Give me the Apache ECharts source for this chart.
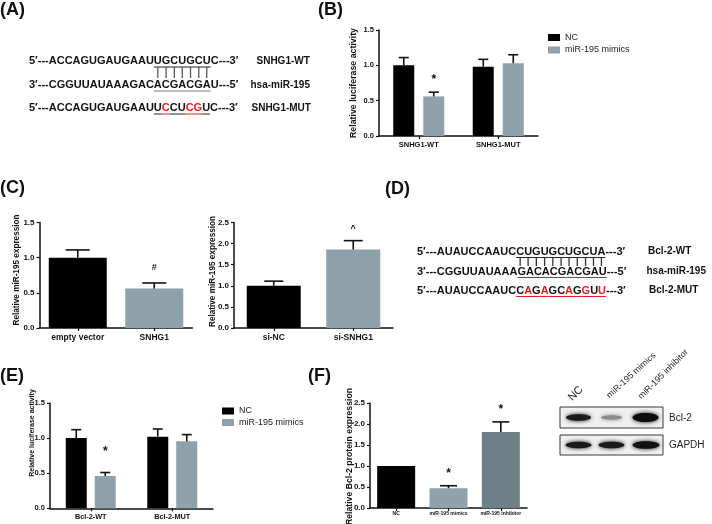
<!DOCTYPE html>
<html><head><meta charset="utf-8">
<script src="https://cdn.jsdelivr.net/npm/echarts@6/dist/echarts.min.js"></script>
<style>html,body{margin:0;padding:0;background:#fff}#c{width:712px;height:524px}</style>
</head><body><div id="c"></div>
<script>
// ---------- data ----------
const bCategories = ['SNHG1-WT', 'SNHG1-MUT'];
const bNC = [1.00, 0.98];
const bNCErr = [0.11, 0.105];
const bMimics = [0.56, 1.03];
const bMimicsErr = [0.06, 0.12];
const bMimicsMarks = ['*', ''];

const cLeftCategories = ['empty vector', 'SNHG1'];
const cLeftValues = [1.00, 0.56];
const cLeftErr = [0.11, 0.08];
const cLeftMarks = ['', '#'];

const cRightCategories = ['si-NC', 'si-SNHG1'];
const cRightValues = [1.00, 1.86];
const cRightErr = [0.11, 0.21];
const cRightMarks = ['', '^'];

const eCategories = ['Bcl-2-WT', 'Bcl-2-MUT'];
const eNC = [1.00, 1.02];
const eNCErr = [0.12, 0.11];
const eMimics = [0.46, 0.955];
const eMimicsErr = [0.05, 0.095];
const eMimicsMarks = ['*', ''];

const fCategories = ['NC', 'miR-195 mimics', 'miR-195 inhibitor'];
const fValues = [1.00, 0.47, 1.81];
const fErr = [0, 0.06, 0.24];
const fMarks = ['', '*', '*'];

const legendNames = ['NC', 'miR-195 mimics'];
const blotLanes = ['NC', 'miR-195 mimics', 'miR-195 inhibitor'];
const blotRows = ['Bcl-2', 'GAPDH'];

// ---------- styles ----------
const FONT = '"Liberation Sans", Arial, sans-serif';
const BLACK = '#000000';
const GRAY = '#8fa1ab';
const SLATE = '#6d7f87';
const INK = '#111111';

function grid(l, t, w, h) {
  return { left: l, top: t, width: w, height: h, containLabel: false, outerBoundsMode: 'none' };
}
function xAx(gi, cats, fs, margin) {
  return {
    type: 'category', gridIndex: gi, data: cats,
    axisLine: { show: true, lineStyle: { color: INK, width: 1.5 } },
    axisTick: { show: true, alignWithLabel: true, length: 3, lineStyle: { color: INK, width: 1.2 } },
    axisLabel: { fontFamily: FONT, fontWeight: 'bold', fontSize: fs, color: INK, margin: margin, interval: 0 },
    splitLine: { show: false }
  };
}
function yAx(gi, max, fs) {
  return {
    type: 'value', gridIndex: gi, min: 0, max: max, interval: 0.5,
    axisLine: { show: true, lineStyle: { color: INK, width: 1.5 } },
    axisTick: { show: true, length: 3, lineStyle: { color: INK, width: 1.2 } },
    axisLabel: { fontFamily: FONT, fontWeight: 'bold', fontSize: fs, color: INK, margin: 5, formatter: v => v.toFixed(1) },
    splitLine: { show: false }
  };
}
function errSeries(gi, vals, errs, marks, offset, cap, markGap, markSize) {
  return {
    type: 'custom', xAxisIndex: gi, yAxisIndex: gi, z: 5, silent: true,
    data: vals.map((v, i) => [i, v, v + errs[i]]),
    renderItem: function (params, api) {
      const i = params.dataIndex;
      const base = api.coord([api.value(0), api.value(1)]);
      const top = api.coord([api.value(0), api.value(2)]);
      const x = base[0] + offset;
      const children = [];
      if (errs[i] > 0) {
        children.push({ type: 'line', shape: { x1: x, y1: base[1], x2: x, y2: top[1] }, style: { stroke: INK, lineWidth: 1.6 } });
        children.push({ type: 'line', shape: { x1: x - cap / 2, y1: top[1], x2: x + cap / 2, y2: top[1] }, style: { stroke: INK, lineWidth: 1.6 } });
      }
      if (marks[i]) {
        children.push({ type: 'text', x: x, y: top[1] - markGap,
          style: { text: marks[i], font: 'bold ' + markSize + 'px ' + FONT, fill: INK, align: 'center', verticalAlign: 'middle', textAlign: 'center', textVerticalAlign: 'middle' } });
      }
      return { type: 'group', children: children };
    }
  };
}

// ---------- graphics (text, sequences, blot) ----------
const graphics = [];
function txt(x, y, s, font, opts) {
  opts = opts || {};
  graphics.push({
    type: 'text', x: x, y: y, rotation: opts.rotation || 0, silent: true,
    style: { text: s, font: font, fill: opts.fill || INK,
      align: opts.align || 'left', verticalAlign: opts.va || 'middle',
      textAlign: opts.align || 'left', textVerticalAlign: opts.va || 'middle' }
  });
}
function line(x1, y1, x2, y2, color, w) {
  graphics.push({ type: 'line', silent: true, shape: { x1, y1, x2, y2 }, style: { stroke: color, lineWidth: w } });
}

const measureCtx = document.createElement('canvas').getContext('2d');
const SEQ_FONT = 'bold 11px ' + FONT;
function tw(s, font) { measureCtx.font = font; return measureCtx.measureText(s).width; }

// draws a sequence line; returns centres of core letters
function seqLine(x, y, pre, core, post, red, ulColor) {
  const full = pre + core + post;
  const colors = [];
  for (let i = 0; i < full.length; i++) {
    const ci = i - pre.length;
    colors.push(ci >= 0 && ci < core.length && red.indexOf(ci) >= 0 ? '#e0211d' : INK);
  }
  let start = 0;
  for (let i = 1; i <= full.length; i++) {
    if (i === full.length || colors[i] !== colors[start]) {
      const seg = full.slice(start, i);
      txt(x + tw(full.slice(0, start), SEQ_FONT), y, seg, SEQ_FONT, { fill: colors[start] });
      start = i;
    }
  }
  const centres = [];
  for (let k = 0; k < core.length; k++) {
    const x0 = x + tw(pre + core.slice(0, k), SEQ_FONT);
    const x1 = x + tw(pre + core.slice(0, k + 1), SEQ_FONT);
    const col = red.indexOf(k) >= 0 ? '#e0211d' : ulColor;
    line(x0, y + 6, x1, y + 6, col, 1);
    centres.push((x0 + x1) / 2);
  }
  return centres;
}
function pairBars(centres, y1, y2, color) {
  centres.forEach(c => line(c, y1, c, y2, color, 1.3));
}

// Panel labels
const PL = 'bold 18px ' + FONT;
txt(0, 10, '(A)', PL); txt(318, 10, '(B)', PL);
txt(0, 188, '(C)', PL); txt(385, 189, '(D)', PL);
txt(0, 376, '(E)', PL); txt(308, 376, '(F)', PL);

// Panel A sequences
const LAB = 'bold 10px ' + FONT;
const a1 = seqLine(29, 61, '5\u2032---ACCAGUGAUGAAU', 'UGCUGCU', 'C---3\u2032', [], '#222');
seqLine(29, 85, '3\u2032---CGGUUAUAAAGAC', 'ACGACGA', 'U---5\u2032', [], '#777');
seqLine(29, 108, '5\u2032---ACCAGUGAUGAAU', 'UCCUCGU', 'C---3\u2032', [1, 4, 5], '#222');
pairBars(a1, 67, 78, '#555');
txt(256.5, 61, 'SNHG1-WT', LAB);
txt(250.5, 85, 'hsa-miR-195', LAB);
txt(251.5, 108, 'SNHG1-MUT', LAB);

// Panel D sequences
const d1 = seqLine(417, 251.5, '5\u2032---AUAUCCAAUC', 'CUGUGCUGCUA', '---3\u2032', [], '#222');
seqLine(417, 271.5, '3\u2032---CGGUUAUAAA', 'GACACGACGAU', '---5\u2032', [], '#555');
seqLine(417, 290.5, '5\u2032---AUAUCCAAUC', 'CAGAGCAGGUU', '---3\u2032', [1, 3, 6, 8, 10], '#e0211d');
pairBars(d1, 257, 266, '#333');
txt(648, 251.5, 'Bcl-2-WT', LAB);
txt(646.5, 271.5, 'hsa-miR-195', LAB);
txt(649, 290.5, 'Bcl-2-MUT', LAB);

// Y axis titles
const rot = Math.PI / 2;
txt(354, 83, 'Relative luciferase activity', 'bold 8.8px ' + FONT, { align: 'center', rotation: rot });
txt(16.5, 270, 'Relative miR-195 expression', 'bold 8.2px ' + FONT, { align: 'center', rotation: rot });
txt(212.5, 271.5, 'Relative miR-195 expression', 'bold 8.2px ' + FONT, { align: 'center', rotation: rot });
txt(32, 433, 'Relative luciferase activity', 'bold 7px ' + FONT, { align: 'center', rotation: rot });
txt(350, 456.5, 'Relative Bcl-2 protein expression', 'bold 8.7px ' + FONT, { align: 'center', rotation: rot });

// Western blot
graphics.push({ type: 'rect', silent: true, shape: { x: 560, y: 407, width: 103, height: 21 }, style: { fill: '#f0f0f0', stroke: '#3a3a3a', lineWidth: 1 } });
graphics.push({ type: 'rect', silent: true, shape: { x: 560, y: 435, width: 103, height: 20 }, style: { fill: '#f0f0f0', stroke: '#3a3a3a', lineWidth: 1 } });
function band(cx, cy, rx, ry, color) {
  graphics.push({ type: 'ellipse', silent: true, shape: { cx, cy, rx, ry }, style: { fill: color, shadowBlur: 4, shadowColor: color } });
}
band(578.5, 417.5, 12.5, 3.2, '#1a1a1a');
band(611.5, 417.5, 10.5, 2.2, '#8a8a8a');
band(645.5, 417.5, 13, 4.6, '#0d0d0d');
band(578.5, 445, 13, 3.3, '#1a1a1a');
band(611.5, 445, 13, 3.3, '#1a1a1a');
band(646, 445, 13.5, 3.8, '#111111');
txt(669, 418, blotRows[0], '10px ' + FONT, { fill: '#222' });
txt(669, 445, blotRows[1], '10px ' + FONT, { fill: '#222' });
txt(574, 403, blotLanes[0], '11px ' + FONT, { va: 'bottom', rotation: Math.PI / 4, fill: '#222' });
txt(611, 400, blotLanes[1], '8.8px ' + FONT, { va: 'bottom', rotation: 0.74, fill: '#222' });
txt(643, 401, blotLanes[2], '8.8px ' + FONT, { va: 'bottom', rotation: Math.PI / 4, fill: '#222' });

// ---------- chart ----------
const legendBase = {
  orient: 'vertical', icon: 'rect', itemWidth: 12, itemHeight: 7, padding: 0,
  selectedMode: false, data: legendNames,
  textStyle: { fontFamily: FONT, fontSize: 9, color: '#222', lineHeight: 10 }
};

const option = {
  animation: false,
  backgroundColor: '#ffffff',
  grid: [
    grid(379, 30, 159, 106),
    grid(39.5, 222.5, 153, 105.5),
    grid(234, 222.5, 159, 105.5),
    grid(50, 403, 163, 105.3),
    grid(370, 403, 157, 105)
  ],
  xAxis: [
    xAx(0, bCategories, 7.5, 5),
    xAx(1, cLeftCategories, 8.5, 5),
    xAx(2, cRightCategories, 8.5, 5),
    xAx(3, eCategories, 7.3, 5),
    xAx(4, fCategories, 5, 3)
  ],
  yAxis: [
    yAx(0, 1.5, 7.5),
    yAx(1, 1.5, 8),
    yAx(2, 2.5, 8),
    yAx(3, 1.5, 7.5),
    yAx(4, 2.5, 8)
  ],
  legend: [
    Object.assign({}, legendBase, { left: 548, top: 32.5, itemGap: 2.5 }),
    Object.assign({}, legendBase, { left: 222, top: 406, itemGap: 1.5 })
  ],
  series: [
    { type: 'bar', name: 'NC', xAxisIndex: 0, yAxisIndex: 0, data: bNC, barWidth: 21, barGap: '43%', itemStyle: { color: BLACK } },
    { type: 'bar', name: 'miR-195 mimics', xAxisIndex: 0, yAxisIndex: 0, data: bMimics, barWidth: 21, barGap: '43%', itemStyle: { color: GRAY } },
    errSeries(0, bNC, bNCErr, ['', ''], -15, 10, 14, 12),
    errSeries(0, bMimics, bMimicsErr, bMimicsMarks, 15, 10, 12, 12),

    { type: 'bar', name: 'C1', xAxisIndex: 1, yAxisIndex: 1, barWidth: 58,
      data: cLeftValues.map((v, i) => ({ value: v, itemStyle: { color: i === 0 ? BLACK : GRAY } })) },
    errSeries(1, cLeftValues, cLeftErr, cLeftMarks, 0, 24, 15, 9),

    { type: 'bar', name: 'C2', xAxisIndex: 2, yAxisIndex: 2, barWidth: 54,
      data: cRightValues.map((v, i) => ({ value: v, itemStyle: { color: i === 0 ? BLACK : GRAY } })) },
    errSeries(2, cRightValues, cRightErr, cRightMarks, 0, 19, 12, 9),

    { type: 'bar', name: 'NC', xAxisIndex: 3, yAxisIndex: 3, data: eNC, barWidth: 21, barGap: '38%', itemStyle: { color: BLACK } },
    { type: 'bar', name: 'miR-195 mimics', xAxisIndex: 3, yAxisIndex: 3, data: eMimics, barWidth: 21, barGap: '38%', itemStyle: { color: GRAY } },
    errSeries(3, eNC, eNCErr, ['', ''], -14.5, 10, 14, 12),
    errSeries(3, eMimics, eMimicsErr, eMimicsMarks, 14.5, 10, 21, 12),

    { type: 'bar', name: 'F', xAxisIndex: 4, yAxisIndex: 4, barWidth: 38,
      data: fValues.map((v, i) => ({ value: v, itemStyle: { color: [BLACK, GRAY, SLATE][i] } })) },
    errSeries(4, fValues, fErr, fMarks, 0, 17, 12.5, 12)
  ],
  graphic: { elements: graphics }
};

const chart = echarts.init(document.getElementById('c'), null, { renderer: 'canvas' });
chart.setOption(option);
</script>
</body></html>
